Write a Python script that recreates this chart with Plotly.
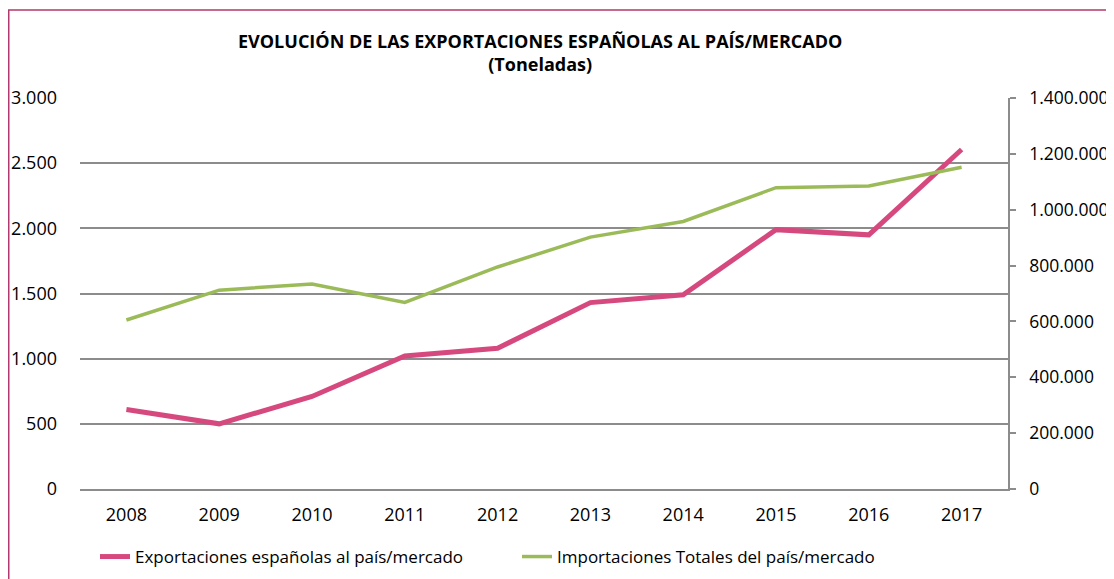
import plotly.graph_objects as go

years = ["2008", "2009", "2010", "2011", "2012", "2013", "2014", "2015", "2016", "2017"]
exportaciones = [610, 500, 710, 1020, 1080, 1430, 1490, 1990, 1950, 2605]
importaciones = [605000, 712000, 734000, 668000, 795000, 902000, 958000, 1079000, 1085000, 1152000]

left_ticks = [0, 500, 1000, 1500, 2000, 2500, 3000]
right_ticks = [0, 200000, 400000, 600000, 800000, 1000000, 1200000, 1400000]

FONT = "'Open Sans', 'Liberation Sans', Arial, sans-serif"
PINK = "#D6497F"
GREEN = "#9BBB59"
BORDER = "#B3386E"

fig = go.Figure()
fig.add_trace(go.Scatter(
    x=years, y=exportaciones, mode="lines", name="Exportaciones españolas al país/mercado",
    line=dict(color=PINK, width=5), yaxis="y"))
fig.add_trace(go.Scatter(
    x=years, y=importaciones, mode="lines", name="Importaciones Totales del país/mercado",
    line=dict(color=GREEN, width=3.5), yaxis="y2"))

# page is offset by the 8px body margin
OFF = 8
W, H = 1114 - OFF, 579 - OFF
L, R, T, B = 80 - OFF, 1114 - 1008, 98 - OFF, 90
pw = W - L - R
ph = H - T - B

def px_x(p):  # page pixel -> paper x
    return (p - OFF - L) / pw

def px_y(p):  # page pixel -> paper y
    return (H - B - (p - OFF)) / ph

fig.update_layout(
    width=W, height=H,
    margin=dict(l=L, r=R, t=T, b=B, autoexpand=False),
    paper_bgcolor="white", plot_bgcolor="white",
    separators=",.",
    font=dict(family=FONT, color="#000000", size=15),
    showlegend=True,
    legend=dict(orientation="h", xref="container", yref="container",
                x=(95 - OFF) / W, y=1 - (557 - OFF) / H, xanchor="left", yanchor="middle",
                font=dict(size=17, family=FONT), entrywidth=377, entrywidthmode="pixels",
                bgcolor="rgba(0,0,0,0)"),
    xaxis=dict(type="category", range=[-0.5, 9.5], showgrid=False, zeroline=False,
               showline=True, linecolor="#8c8c8c", linewidth=1.5, ticks="", automargin=False,
               tickfont=dict(size=18), ticklabelstandoff=9),
    yaxis=dict(range=[0, 3000], tickvals=left_ticks, tickformat=",d", automargin=False,
               showgrid=True, gridcolor="#8c8c8c", gridwidth=1.5, zeroline=False,
               showline=False, ticks="", tickfont=dict(size=18), ticklabelstandoff=22),
    yaxis2=dict(range=[0, 1400000], tickvals=right_ticks, tickformat=",d", automargin=False,
                overlaying="y", side="right", showgrid=False, zeroline=False,
                showline=True, linecolor="#8c8c8c", linewidth=1.5,
                ticks="outside", ticklen=6, tickcolor="#8c8c8c", tickwidth=1.5,
                tickfont=dict(size=17.5), ticklabelstandoff=10),
    annotations=[
        dict(text="<b>EVOLUCIÓN DE LAS EXPORTACIONES ESPAÑOLAS AL PAÍS/MERCADO</b><br><b>(Toneladas)</b>",
             xref="paper", yref="paper", x=px_x(540), y=px_y(53), xanchor="center", yanchor="middle",
             showarrow=False, font=dict(size=18, family=FONT), align="center")
    ],
    shapes=[
        dict(type="rect", xref="paper", yref="paper",
             x0=px_x(8.75), x1=px_x(1107), y0=px_y(10), y1=px_y(600),
             line=dict(color=BORDER, width=1.5), fillcolor="rgba(0,0,0,0)", layer="above")
    ],
)

fig.write_html("out.html")
